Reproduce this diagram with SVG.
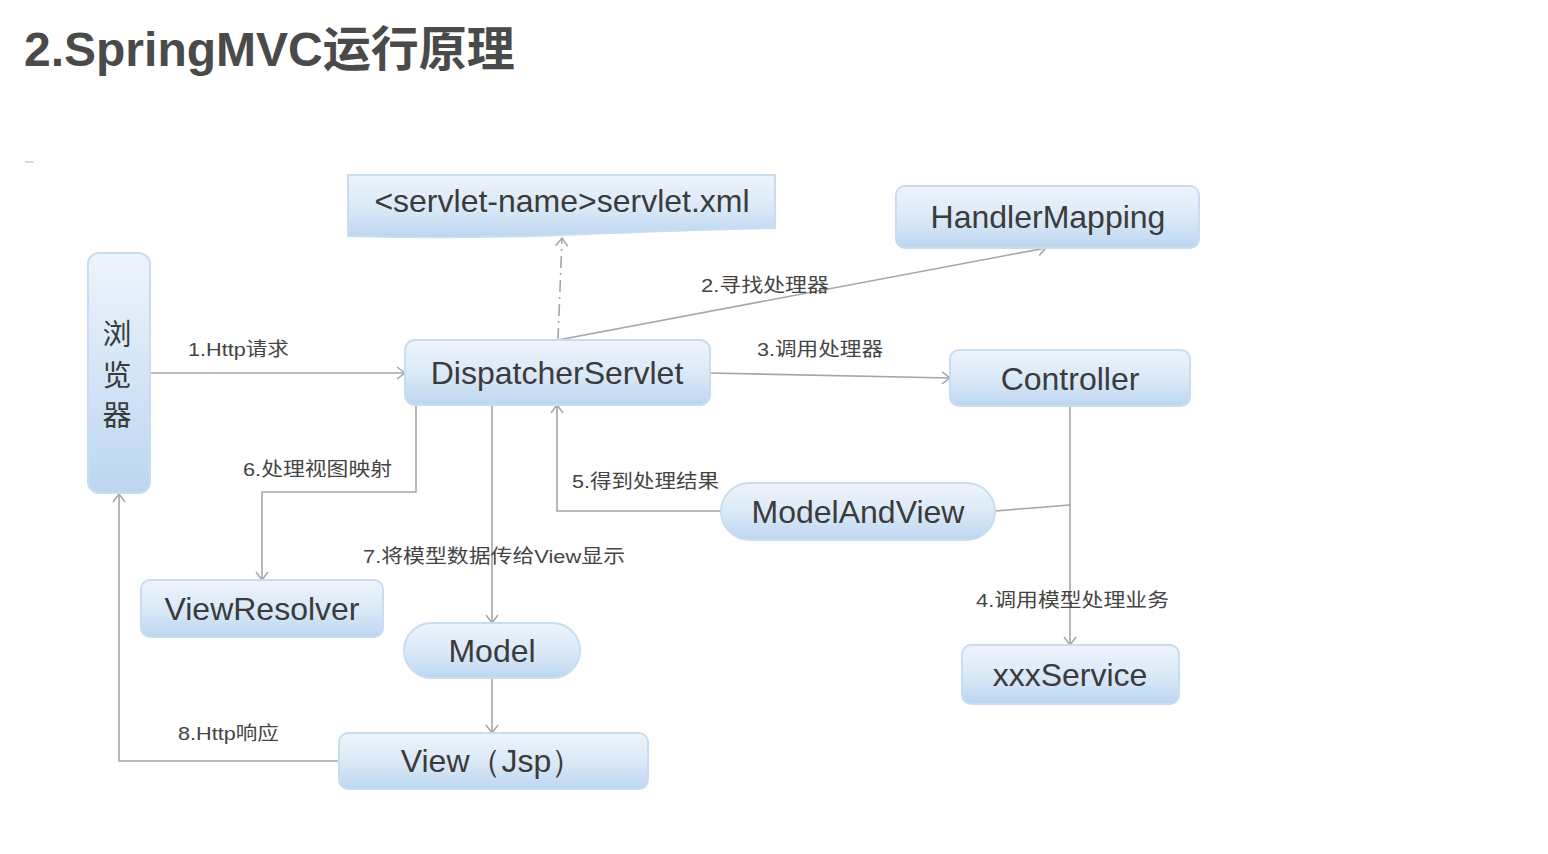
<svg xmlns="http://www.w3.org/2000/svg" width="1548" height="854" viewBox="0 0 1548 854">
<defs>
<linearGradient id="g" x1="0" y1="0" x2="0" y2="1">
<stop offset="0" stop-color="#eef4fc"/>
<stop offset="0.55" stop-color="#d9e8f7"/>
<stop offset="1" stop-color="#bcd6f0"/>
</linearGradient>
<linearGradient id="gv" x1="0" y1="0" x2="0" y2="1">
<stop offset="0" stop-color="#eef4fc"/>
<stop offset="0.6" stop-color="#cfe2f5"/>
<stop offset="1" stop-color="#bcd6f0"/>
</linearGradient>
<marker id="arr" markerUnits="userSpaceOnUse" markerWidth="14" markerHeight="14" refX="11" refY="7" orient="auto">
<path d="M3,1 L11,7 L3,13" fill="none" stroke="#a6a6a6" stroke-width="1.5"/>
</marker>
<style>
.box{fill:url(#g);stroke:#c9ddf2;stroke-width:2}
.nt{font-family:"Liberation Sans",Arial,sans-serif;font-size:32px;fill:#3b3b3b;text-anchor:middle}
.lb{font-family:"Liberation Sans","Noto Sans CJK SC",sans-serif;font-size:19px;fill:#444}
.cn{fill:none;stroke:#a6a6a6;stroke-width:1.6}
</style>
</defs>
<rect width="1548" height="854" fill="#ffffff"/>
<text x="24" y="66" font-family="'Liberation Sans','Noto Sans CJK SC',sans-serif" font-size="48" font-weight="bold" fill="#4a4a4a">2.SpringMVC运行原理</text>
<line x1="25" y1="162" x2="34" y2="162" stroke="#c9ddf2" stroke-width="2"/>

<g id="connectors">
<line class="cn" x1="150" y1="373" x2="405" y2="373" marker-end="url(#arr)"/>
<line class="cn" x1="558" y1="340" x2="1046" y2="248" marker-end="url(#arr)"/>
<line class="cn" x1="558" y1="340" x2="562" y2="238" stroke-dasharray="12,5,2,5" marker-end="url(#arr)"/>
<line class="cn" x1="710" y1="373" x2="950" y2="378" marker-end="url(#arr)"/>
<line class="cn" x1="1070" y1="406" x2="1070" y2="645" marker-end="url(#arr)"/>
<line class="cn" x1="995" y1="511" x2="1070" y2="505"/>
<polyline class="cn" points="721,511 557,511 557,405" marker-end="url(#arr)"/>
<polyline class="cn" points="416,405 416,492 262,492 262,580" marker-end="url(#arr)"/>
<line class="cn" x1="492" y1="405" x2="492" y2="623" marker-end="url(#arr)"/>
<line class="cn" x1="492" y1="678" x2="492" y2="733" marker-end="url(#arr)"/>
<polyline class="cn" points="339,761 119,761 119,494" marker-end="url(#arr)"/>
<text class="lb" x="188" y="356" textLength="101" lengthAdjust="spacingAndGlyphs">1.Http请求</text>
<text class="lb" x="701" y="292" textLength="128" lengthAdjust="spacingAndGlyphs">2.寻找处理器</text>
<text class="lb" x="757" y="356" textLength="126" lengthAdjust="spacingAndGlyphs">3.调用处理器</text>
<text class="lb" x="976" y="607" textLength="193" lengthAdjust="spacingAndGlyphs">4.调用模型处理业务</text>
<text class="lb" x="572" y="488" textLength="147" lengthAdjust="spacingAndGlyphs">5.得到处理结果</text>
<text class="lb" x="243" y="476" textLength="149" lengthAdjust="spacingAndGlyphs">6.处理视图映射</text>
<text class="lb" x="363" y="563" textLength="262" lengthAdjust="spacingAndGlyphs">7.将模型数据传给View显示</text>
<text class="lb" x="178" y="740" textLength="101" lengthAdjust="spacingAndGlyphs">8.Http响应</text>
</g>

<g id="browser">
<rect class="box" x="88" y="253" width="62" height="240" rx="11" style="fill:url(#gv)"/>
<text x="117" y="345" font-family="'Noto Sans CJK SC',sans-serif" font-size="29" fill="#3b3b3b" text-anchor="middle">浏</text>
<text x="117" y="386" font-family="'Noto Sans CJK SC',sans-serif" font-size="29" fill="#3b3b3b" text-anchor="middle">览</text>
<text x="117" y="426" font-family="'Noto Sans CJK SC',sans-serif" font-size="29" fill="#3b3b3b" text-anchor="middle">器</text>
</g>

<g id="servletxml">
<path class="box" d="M348,175 H775 V228 C700,229 640,232 562,235 C480,238 420,238 348,236 Z"/>
<text class="nt" x="562" y="212">&lt;servlet-name&gt;servlet.xml</text>
</g>

<g id="handlermapping">
<rect class="box" x="896" y="186" width="303" height="62" rx="9"/>
<text class="nt" x="1048" y="228">HandlerMapping</text>
</g>

<g id="dispatcherservlet">
<rect class="box" x="405" y="340" width="305" height="65" rx="10"/>
<text class="nt" x="557" y="384">DispatcherServlet</text>
</g>

<g id="controller">
<rect class="box" x="950" y="350" width="240" height="56" rx="9"/>
<text class="nt" x="1070" y="390">Controller</text>
</g>

<g id="modelandview">
<rect class="box" x="721" y="483" width="274" height="57" rx="28.5"/>
<text class="nt" x="858" y="523">ModelAndView</text>
</g>

<g id="viewresolver">
<rect class="box" x="141" y="580" width="242" height="57" rx="9"/>
<text class="nt" x="262" y="620">ViewResolver</text>
</g>

<g id="model">
<rect class="box" x="404" y="623" width="176" height="55" rx="27.5"/>
<text class="nt" x="492" y="662">Model</text>
</g>

<g id="view">
<rect class="box" x="339" y="733" width="309" height="56" rx="9"/>
<text class="nt" x="492" y="772" font-family="'Liberation Sans','Noto Sans CJK SC',sans-serif">View（Jsp）</text>
</g>

<g id="xxxservice">
<rect class="box" x="962" y="645" width="217" height="59" rx="9"/>
<text class="nt" x="1070" y="686">xxxService</text>
</g>
</svg>
